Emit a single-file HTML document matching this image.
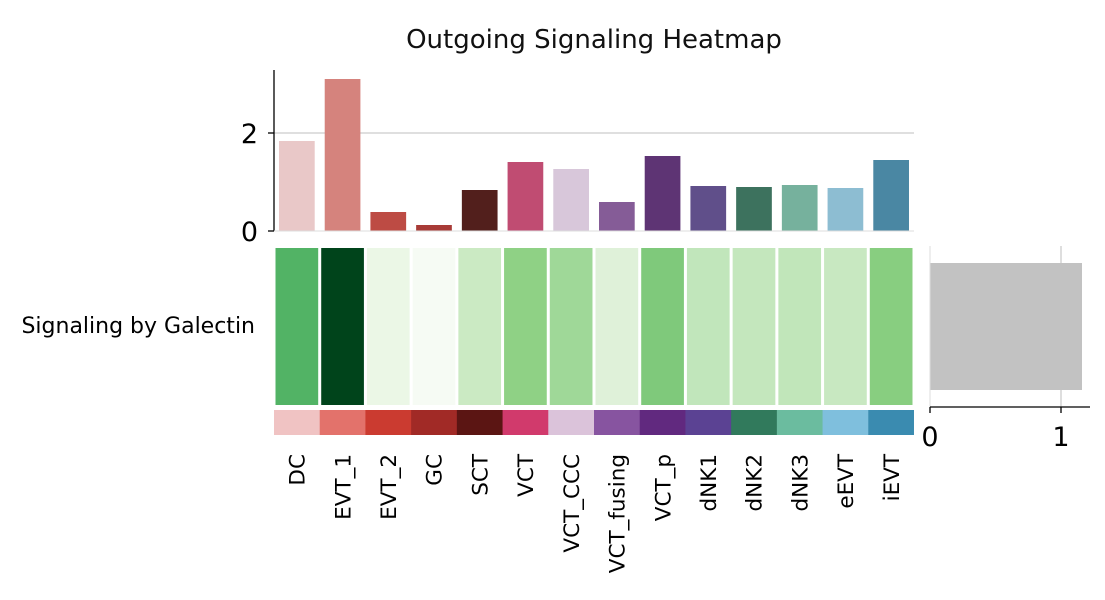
<!DOCTYPE html>
<html><head><meta charset="utf-8"><style>
body{margin:0;background:#fff;}
svg text{font-family:"DejaVu Sans","Liberation Sans",sans-serif;}
</style></head><body>
<svg width="1105" height="595" xmlns="http://www.w3.org/2000/svg">
<rect width="1105" height="595" fill="#fff"/>
<text x="594" y="48" font-size="26" text-anchor="middle" fill="#111">Outgoing Signaling Heatmap</text>
<line x1="274" y1="133" x2="914" y2="133" stroke="#ccc" stroke-width="1.3"/>
<g>
<rect x="279" y="141" width="35.7" height="90" fill="#e9c8c8"/>
<rect x="324.71" y="79" width="35.7" height="152" fill="#d5837d"/>
<rect x="370.43" y="212" width="35.7" height="19" fill="#bd4b44"/>
<rect x="416.14" y="225" width="35.7" height="6" fill="#a83b37"/>
<rect x="461.86" y="190" width="35.7" height="41" fill="#521f1c"/>
<rect x="507.57" y="162" width="35.7" height="69" fill="#c04c72"/>
<rect x="553.29" y="169" width="35.7" height="62" fill="#d8c7da"/>
<rect x="599" y="202" width="35.7" height="29" fill="#855c97"/>
<rect x="644.71" y="156" width="35.7" height="75" fill="#5e3474"/>
<rect x="690.43" y="186" width="35.7" height="45" fill="#604f8a"/>
<rect x="736.14" y="187" width="35.7" height="44" fill="#3d725e"/>
<rect x="781.86" y="185" width="35.7" height="46" fill="#76b19d"/>
<rect x="827.57" y="188" width="35.7" height="43" fill="#8dbdd2"/>
<rect x="873.29" y="160" width="35.7" height="71" fill="#4a87a3"/>
</g>
<line x1="274" y1="70" x2="274" y2="231" stroke="#000" stroke-width="1.3"/>
<line x1="274" y1="231" x2="914" y2="231" stroke="#ddd" stroke-width="1"/>
<line x1="268" y1="133" x2="274" y2="133" stroke="#000" stroke-width="1.3"/>
<line x1="268" y1="231" x2="274" y2="231" stroke="#000" stroke-width="1.3"/>
<text x="258" y="143" font-size="27" text-anchor="end">2</text>
<text x="258" y="241" font-size="27" text-anchor="end">0</text>
<text x="255" y="333" font-size="22" text-anchor="end">Signaling by Galectin</text>
<g>
<rect x="275.5" y="248" width="42.7" height="157" fill="#52b365"/>
<rect x="321.21" y="248" width="42.7" height="157" fill="#00441b"/>
<rect x="366.93" y="248" width="42.7" height="157" fill="#ebf7e6"/>
<rect x="412.64" y="248" width="42.7" height="157" fill="#f6fbf4"/>
<rect x="458.36" y="248" width="42.7" height="157" fill="#cbeac3"/>
<rect x="504.07" y="248" width="42.7" height="157" fill="#8fd185"/>
<rect x="549.79" y="248" width="42.7" height="157" fill="#9fd898"/>
<rect x="595.5" y="248" width="42.7" height="157" fill="#dff1d9"/>
<rect x="641.21" y="248" width="42.7" height="157" fill="#7fc97b"/>
<rect x="686.93" y="248" width="42.7" height="157" fill="#c1e6bb"/>
<rect x="732.64" y="248" width="42.7" height="157" fill="#c4e7bd"/>
<rect x="778.36" y="248" width="42.7" height="157" fill="#c1e6ba"/>
<rect x="824.07" y="248" width="42.7" height="157" fill="#c8e8c1"/>
<rect x="869.79" y="248" width="42.7" height="157" fill="#88ce80"/>
</g>
<g>
<rect x="274" y="410" width="46.2" height="25" fill="#f0c3c3"/>
<rect x="319.71" y="410" width="46.2" height="25" fill="#e3726b"/>
<rect x="365.43" y="410" width="46.2" height="25" fill="#cb3b30"/>
<rect x="411.14" y="410" width="46.2" height="25" fill="#a12a26"/>
<rect x="456.86" y="410" width="46.2" height="25" fill="#5b1513"/>
<rect x="502.57" y="410" width="46.2" height="25" fill="#d13a6c"/>
<rect x="548.29" y="410" width="46.2" height="25" fill="#dbc3da"/>
<rect x="594" y="410" width="46.2" height="25" fill="#8754a0"/>
<rect x="639.71" y="410" width="46.2" height="25" fill="#61297f"/>
<rect x="685.43" y="410" width="46.2" height="25" fill="#5b4293"/>
<rect x="731.14" y="410" width="46.2" height="25" fill="#317a5c"/>
<rect x="776.86" y="410" width="46.2" height="25" fill="#6bbc9f"/>
<rect x="822.57" y="410" width="46.2" height="25" fill="#7fbfdd"/>
<rect x="868.29" y="410" width="45.7" height="25" fill="#3a8bb0"/>
</g>
<g font-size="21.5" text-anchor="end">
<text transform="translate(304.6,454) rotate(-90)">DC</text>
<text transform="translate(350.3,454) rotate(-90)">EVT_1</text>
<text transform="translate(396.0,454) rotate(-90)">EVT_2</text>
<text transform="translate(441.7,454) rotate(-90)">GC</text>
<text transform="translate(487.4,454) rotate(-90)">SCT</text>
<text transform="translate(533.1,454) rotate(-90)">VCT</text>
<text transform="translate(578.8,454) rotate(-90)">VCT_CCC</text>
<text transform="translate(624.6,454) rotate(-90)">VCT_fusing</text>
<text transform="translate(670.3,454) rotate(-90)">VCT_p</text>
<text transform="translate(716.0,454) rotate(-90)">dNK1</text>
<text transform="translate(761.7,454) rotate(-90)">dNK2</text>
<text transform="translate(807.4,454) rotate(-90)">dNK3</text>
<text transform="translate(853.1,454) rotate(-90)">eEVT</text>
<text transform="translate(898.8,454) rotate(-90)">iEVT</text>
</g>
<line x1="1061" y1="246" x2="1061" y2="407" stroke="#ccc" stroke-width="1.3"/>
<rect x="930" y="263" width="152" height="127" fill="#c2c2c2"/>
<line x1="930" y1="246" x2="930" y2="407" stroke="#ddd" stroke-width="1"/>
<line x1="930" y1="407" x2="1090" y2="407" stroke="#000" stroke-width="1.3"/>
<line x1="930" y1="407" x2="930" y2="413" stroke="#000" stroke-width="1.3"/>
<line x1="1061" y1="407" x2="1061" y2="413" stroke="#000" stroke-width="1.3"/>
<text x="930" y="446" font-size="27" text-anchor="middle">0</text>
<text x="1061" y="446" font-size="27" text-anchor="middle">1</text>
</svg>
</body></html>
